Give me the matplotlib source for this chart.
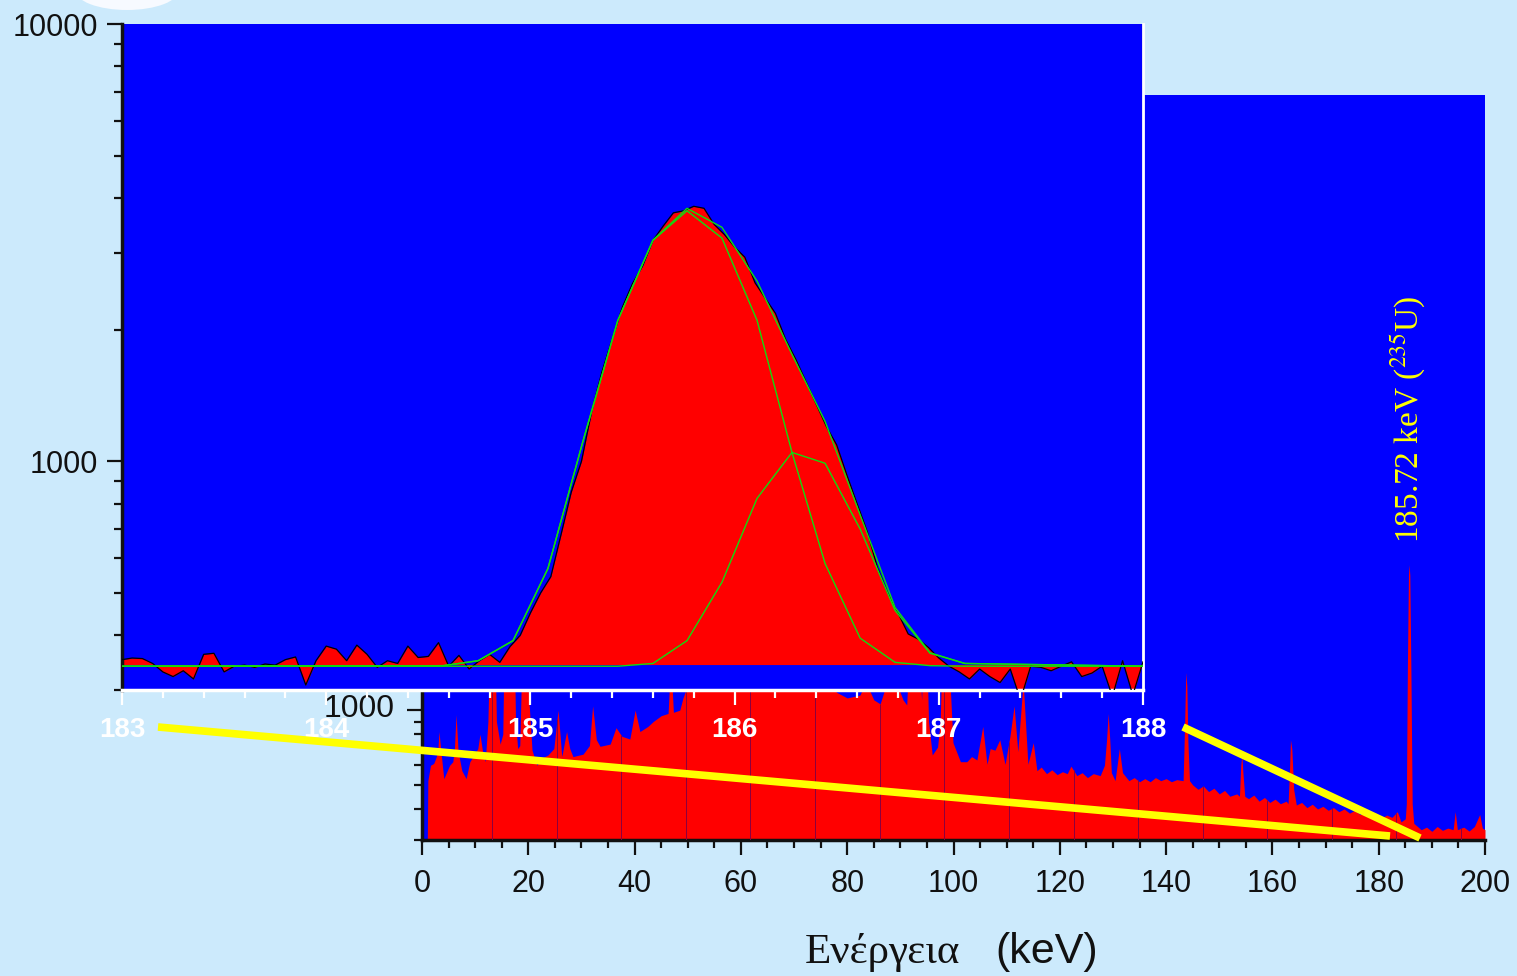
import numpy as np
import matplotlib
matplotlib.use('Agg')
import matplotlib.pyplot as plt
import matplotlib.transforms as mtransforms
from matplotlib.lines import Line2D
from matplotlib.patches import Ellipse
from matplotlib.ticker import LogLocator, MultipleLocator, NullFormatter, FuncFormatter

plt.rcParams['font.family'] = ['Liberation Sans', 'DejaVu Sans']
plt.rcParams['mathtext.fontset'] = 'stix'

# full spectrum 0-200 keV (energy in keV, counts)
main_energy = [
    0.0, 1.0, 1.1, 1.6, 2.2, 2.7, 3.0, 3.2, 3.5, 4.1, 4.6, 5.2, 5.8, 6.1, 6.4, 6.8, 7.5, 8.3, 9.0, 9.8,
    10.5, 10.9, 11.4, 11.9, 12.4, 13.0, 13.6, 14.0, 14.7, 15.2, 15.7, 16.5, 17.2, 17.6, 18.0, 18.4, 19.0, 19.5, 20.0,
    20.7, 21.6, 22.5, 23.7, 24.8, 25.6, 26.3, 27.2, 27.8, 28.4, 30.3, 31.5, 32.1, 32.8, 33.5, 35.4, 36.5, 37.6,
    39.1, 40.1, 41.0, 42.5, 43.5, 45.0, 46.3, 46.8, 47.3, 48.5, 49.1,
    50.5, 53.0, 56.0, 59.0, 62.0, 63.3, 64.2, 66.0, 70.0, 74.0, 76.0, 78.0, 80.0, 82.4, 83.5, 85.0, 86.2, 87.5,
    89.5, 90.5, 91.2, 92.4, 93.3, 94.0, 94.7, 95.3, 96.0, 97.0, 97.5, 98.4, 99.2, 99.9,
    101.3, 102.5, 103.4, 104.4, 105.5, 106.3, 106.9, 107.8, 108.7, 109.7, 110.6, 111.4, 112.1, 113.1, 114.0,
    115.0, 115.7, 116.5, 117.5, 118.5, 119.5, 120.5, 121.4, 122.1, 123.2, 124.2, 125.2, 126.3, 127.6, 128.4,
    128.8, 129.1, 129.4, 129.7, 130.4, 131.2, 131.8, 133.0, 134.0, 135.0, 136.0, 137.0, 138.0, 139.0, 140.0,
    141.0, 142.0, 143.2, 143.5, 143.7, 143.9, 144.1, 144.4,
    145.0, 146.0, 147.0, 148.0, 149.0, 150.0, 151.0, 152.0, 153.3, 153.8, 154.05, 154.25, 154.45, 154.8, 155.5,
    156.5, 157.5, 158.5, 159.5, 160.5, 161.5, 162.6, 162.95, 163.2, 163.4, 163.65, 164.0, 164.5, 165.5, 166.5,
    167.5, 168.5, 169.5, 170.5, 171.5, 172.5, 173.5, 174.5, 175.5, 176.5, 177.5, 178.5, 179.5, 180.5, 181.5,
    182.5, 183.5, 184.2, 185.0, 185.2, 185.4, 185.6, 185.72, 185.85, 186.05, 186.3, 186.6, 187.3, 188.0,
    189.0, 190.0, 191.0, 192.0, 193.0, 194.0, 194.4, 194.8, 196.0, 197.0, 198.0, 199.0, 199.5, 200.0]
main_counts = [
    300, 300, 520, 600, 610, 650, 700, 820, 700, 530, 560, 600, 620, 700, 960, 680, 570, 530, 620, 660,
    700, 800, 680, 620, 900, 3000, 2500, 900, 730, 800, 4000, 6000, 3000, 900, 700, 720, 2500, 3000, 1200,
    690, 600, 640, 660, 700, 1000, 650, 820, 700, 650, 665, 720, 1040, 760, 715, 730, 850, 785,
    765, 1000, 820, 860, 900, 950, 970, 1600, 980, 1000, 1120,
    1350, 1400, 1450, 1500, 1450, 2500, 1190, 1400, 1450, 1500, 1350, 1180, 1120, 1150, 1300, 1100, 1060, 1300,
    1250, 1100, 1050, 4000, 2000, 1100, 3000, 900, 660, 710, 900, 5000, 1500, 740,
    620, 620, 650, 630, 860, 605, 700, 690, 760, 605, 780, 1040, 680, 1300, 605,
    740, 570, 590, 555, 575, 550, 565, 555, 595, 545, 560, 535, 555, 545, 600,
    760, 970, 760, 560, 520, 700, 560, 520, 535, 515, 530, 515, 535, 520, 530,
    515, 525, 520, 900, 1420, 1250, 750, 520,
    500, 480, 495, 470, 485, 460, 475, 450, 460, 450, 600, 660, 560, 450, 440,
    455, 430, 445, 425, 438, 420, 430, 420, 560, 760, 700, 480, 415, 425, 405,
    418, 400, 410, 395, 405, 390, 400, 385, 395, 380, 390, 372, 385, 368, 378,
    370, 390, 355, 365, 420, 1500, 3500, 3850, 3500, 1500, 420, 350, 340, 330,
    338, 325, 340, 328, 335, 330, 390, 330, 338, 326, 340, 380, 335, 330]

# zoomed region 183-188 keV, channel width 0.05 keV
inset_energy = np.round(np.arange(183.0, 188.0001, 0.05), 2)
inset_counts = [
    352, 355, 354, 345, 330, 322, 332, 318, 362, 364,
    330, 340, 342, 338, 344, 342, 352, 357, 308, 350,
    378, 372, 350, 380, 362, 338, 350, 345, 378, 356,
    358, 385, 340, 360, 335, 350, 362, 347, 377, 400,
    450, 500, 545, 680, 850, 1000, 1300, 1600, 1900, 2250,
    2550, 2800, 3200, 3450, 3700, 3740, 3830, 3790, 3480, 3300,
    3090, 2930, 2560, 2360, 2180, 1900, 1710, 1520, 1350, 1200,
    1090, 930, 800, 690, 570, 500, 450, 403, 392, 375,
    355, 340, 330, 318, 335, 322, 312, 335, 285, 340,
    338, 332, 340, 348, 322, 328, 340, 290, 350, 292, 348]
inset_base = 343

# fitted components
fit_energy = [183.0, 184.573, 184.744, 184.915, 185.086, 185.257, 185.428, 185.600, 185.767,
              185.938, 186.110, 186.281, 186.443, 186.615, 186.786, 186.957, 187.128, 188.0]
fit_peak1 = [340, 341, 350, 389, 569, 1110, 2100, 3200, 3740, 3240, 2100, 1048, 584, 394, 347, 341, 340, 340]
fit_peak2 = [340, 340, 340, 340, 340, 340, 340, 345, 389, 529, 823, 1048, 990, 700, 456, 364, 345, 340]
fit_total = [340, 341, 350, 389, 569, 1110, 2100, 3205, 3789, 3429, 2583, 1756, 1234, 754, 463, 365, 345, 340]

W, H = 1517, 976
BG = '#cceafc'
BLUE = '#0000ff'
RED = '#ff0000'
YELLOW = '#ffff00'
GREEN = '#10dd10'
INK = '#111111'


def fx(px):
    return px / W


def fy(py):
    return 1 - py / H


fig = plt.figure(figsize=(W / 100, H / 100), dpi=100, facecolor=BG)
fig.add_artist(Ellipse((fx(127), fy(-10)), 104 / W, 40 / H, transform=fig.transFigure,
                       facecolor='#f7faff', edgecolor='none'))

# main spectrum
ax = fig.add_axes([fx(422), fy(840), fx(1485) - fx(422), fy(95) - fy(840)])
ax.set_facecolor(BLUE)
ax.set_yscale('log')
ax.fill_between(main_energy, main_counts, 300, color=RED, lw=0, zorder=2)
dividers = [13.2, 25.4, 37.5, 49.7, 61.8, 74.0, 86.1, 98.3, 110.4, 122.6, 134.7, 146.9, 159.0, 171.2, 183.3, 195.5]
ax.vlines(dividers, 300, np.interp(dividers, main_energy, main_counts), color='#8a0040', lw=0.7, zorder=3)
ax.set_xlim(0, 200)
ax.set_ylim(300, 3e5)
ax.xaxis.set_major_locator(MultipleLocator(20))
ax.xaxis.set_minor_locator(MultipleLocator(5))
ax.yaxis.set_major_locator(LogLocator(base=10, numticks=20))
ax.yaxis.set_minor_locator(LogLocator(base=10, subs=np.arange(2, 10) * 1.0, numticks=20))
ax.yaxis.set_minor_formatter(NullFormatter())
ax.yaxis.set_major_formatter(FuncFormatter(lambda v, p: '%d' % v))
ax.tick_params(which='major', direction='out', length=11, width=1.6, labelsize=22, pad=10, colors=INK)
ax.tick_params(axis='y', which='major', labelsize=23, pad=9)
ax.tick_params(which='minor', direction='out', length=6, width=1.6, colors=INK)
lift = mtransforms.ScaledTranslation(0, 3 / 72, fig.dpi_scale_trans)
for lab in ax.get_yticklabels():
    lab.set_transform(lab.get_transform() + lift)
for s in ['top', 'right']:
    ax.spines[s].set_visible(False)
for s in ['left', 'bottom']:
    ax.spines[s].set_linewidth(2.5)
    ax.spines[s].set_color(INK)

# zoomed inset
ins = fig.add_axes([fx(122), fy(690), fx(1143) - fx(122), fy(24) - fy(690)])
ins.set_facecolor(BLUE)
ins.set_yscale('log')
ins.fill_between(inset_energy, inset_counts, inset_base, color=RED, lw=0, zorder=2)
ins.plot(inset_energy, inset_counts, color='black', lw=0.9, zorder=3)
ins.plot(fit_energy, fit_peak1, color=GREEN, lw=1, zorder=4)
ins.plot(fit_energy, fit_peak2, color=GREEN, lw=1, zorder=4)
ins.plot(fit_energy, fit_total, color=GREEN, lw=1, zorder=4)
ins.set_xlim(183, 188)
ins.set_ylim(300, 10000)
ins.xaxis.set_major_locator(MultipleLocator(1))
ins.xaxis.set_minor_locator(MultipleLocator(0.2))
ins.xaxis.set_major_formatter(FuncFormatter(lambda v, p: '%d' % round(v)))
ins.yaxis.set_major_locator(LogLocator(base=10, numticks=20))
ins.yaxis.set_minor_locator(LogLocator(base=10, subs=np.arange(2, 10) * 1.0, numticks=20))
ins.yaxis.set_minor_formatter(NullFormatter())
ins.yaxis.set_major_formatter(FuncFormatter(lambda v, p: '%d' % v))
ins.tick_params(axis='x', which='major', direction='out', length=11, width=1.6, colors='white',
                labelsize=20, pad=8.5)
ins.tick_params(axis='x', which='minor', direction='out', length=6, width=1.6, colors='white')
for lab in ins.get_xticklabels():
    lab.set_fontweight('bold')
ins.tick_params(axis='y', which='major', direction='out', length=11, width=1.6, colors=INK,
                labelsize=22, pad=6)
ins.tick_params(axis='y', which='minor', direction='out', length=6, width=1.6, colors=INK)
ins.spines['top'].set_visible(False)
ins.spines['left'].set_linewidth(2.5)
ins.spines['left'].set_color(INK)
ins.spines['bottom'].set_linewidth(2.5)
ins.spines['bottom'].set_color('white')
ins.spines['right'].set_linewidth(2)
ins.spines['right'].set_color('white')

# connector lines
fig.add_artist(Line2D([fx(158), fx(1390)], [fy(727), fy(836)], transform=fig.transFigure,
                      color=YELLOW, lw=5.5, solid_capstyle='butt', zorder=10))
fig.add_artist(Line2D([fx(1183), fx(1420)], [fy(727), fy(838)], transform=fig.transFigure,
                      color=YELLOW, lw=5.5, solid_capstyle='butt', zorder=10))

fig.text(fx(1408), fy(419), r'185.72 keV ($^{235}$U)', rotation=90, color=YELLOW, fontsize=24,
         family=['Liberation Serif', 'DejaVu Serif'], ha='center', va='center')

fig.text(fx(805), fy(963), 'Ενέργεια', family=['Liberation Serif', 'DejaVu Serif'], fontsize=31,
         color=INK, ha='left', va='baseline')
fig.text(fx(995), fy(963), '(keV)', fontsize=31, color=INK, ha='left', va='baseline')

fig.savefig('out.png', dpi=100, facecolor=fig.get_facecolor())
